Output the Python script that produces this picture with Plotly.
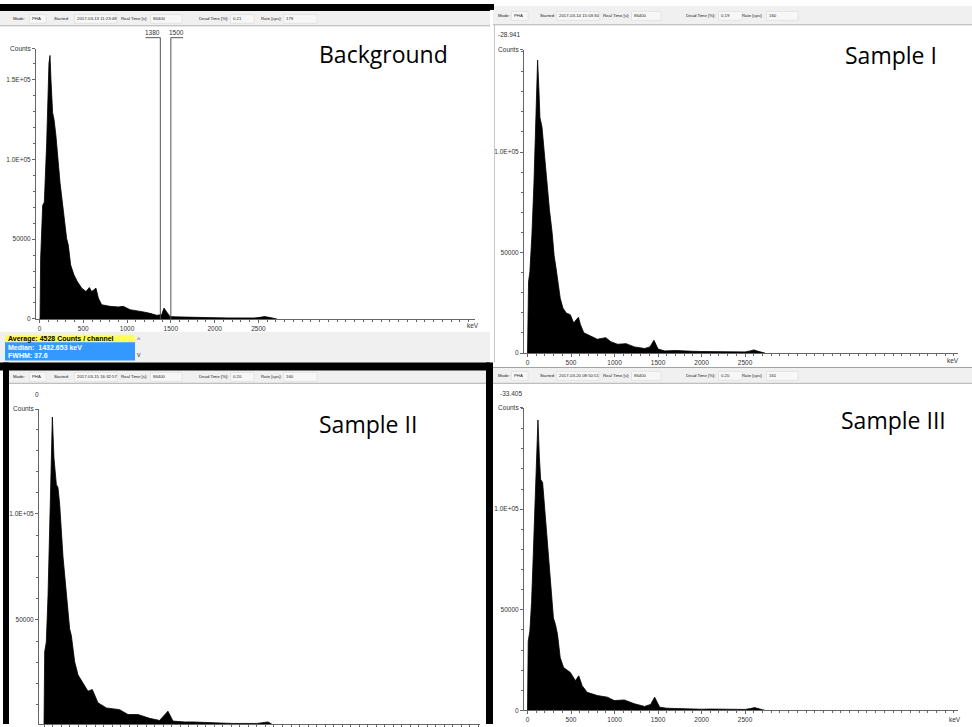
import plotly.graph_objects as go

W, H = 972, 727

# ---------------- data ----------------
bg_energy = [0, 6, 13, 36, 55, 82, 108, 120, 131, 150, 166, 188, 234, 272, 310, 329, 356, 394, 432, 482,
             531, 569, 596, 645, 672, 710, 805, 900, 957, 1034, 1110, 1186, 1262, 1338, 1395, 1422, 1452, 1490,
             1550, 1650, 1750, 1850, 1950, 2050, 2150, 2250, 2350, 2450, 2520, 2570, 2620, 2680, 2710]
bg_counts = [0, 0, 38000, 71200, 73200, 110600, 160400, 165200, 150000, 129300, 125100, 114700, 85700, 69100,
             50400, 46300, 33800, 27600, 23400, 19300, 17200, 19700, 17200, 19300, 13100, 8900, 7900, 7500, 7900,
             5800, 5200, 4400, 3500, 2300, 2700, 6800, 4400, 1500, 1300, 1100, 1000, 900, 800, 700, 650, 600, 550,
             600, 1000, 1500, 1000, 500, 0]

s1_energy = [0, 12, 27, 50, 74, 97, 116, 132, 143, 167, 190, 221, 252, 283, 306, 329, 353, 376, 407, 446,
             492, 531, 562, 585, 608, 647, 725, 802, 899, 957, 1035, 1132, 1229, 1345, 1407, 1453, 1500, 1578,
             1700, 1800, 1900, 2000, 2100, 2200, 2300, 2400, 2500, 2560, 2600, 2650, 2700, 2730]
s1_counts = [0, 35500, 40400, 58300, 84500, 115500, 145700, 130200, 117200, 112300, 100800, 87700, 71400, 60000,
             48500, 42000, 33800, 27300, 22400, 19900, 19100, 15000, 16700, 17800, 14200, 10100, 8500, 6900, 7700,
             5700, 4400, 4700, 3100, 2300, 3100, 6400, 2000, 1100, 1300, 1000, 900, 800, 800, 700, 600, 500, 600,
             1100, 1600, 900, 400, 0]

s2_energy = [0, 8, 27, 47, 66, 86, 98, 117, 145, 164, 184, 223, 262, 301, 321, 360, 399, 457, 516, 567,
             594, 633, 732, 888, 986, 1103, 1240, 1357, 1455, 1514, 1650, 1750, 2000, 2219, 2500, 2630, 2689, 2720]
s2_counts = [0, 35000, 39600, 61300, 92300, 131000, 145700, 126300, 113900, 112400, 104600, 79900, 61300, 45800,
             42700, 30300, 24100, 20300, 16400, 17200, 14900, 11000, 8500, 7700, 5400, 5400, 3600, 2600, 7000,
             2300, 1900, 1900, 1500, 1200, 1200, 1900, 500, 0]

s3_energy = [0, 8, 27, 47, 66, 85, 105, 120, 136, 151, 174, 198, 221, 260, 298, 322, 345, 376, 415, 492,
             550, 589, 628, 686, 802, 918, 996, 1112, 1229, 1345, 1415, 1461, 1519, 1600, 1700, 1800, 1900, 2000,
             2100, 2200, 2300, 2400, 2500, 2560, 2610, 2660, 2700, 2730]
s3_counts = [0, 34400, 39400, 54100, 77100, 103300, 131200, 144300, 126300, 114800, 113200, 100000, 88600, 67200,
             45900, 42600, 37700, 26200, 21300, 18900, 14800, 17200, 12300, 9000, 7400, 6600, 4900, 5200, 3300,
             2000, 3000, 6600, 1600, 1100, 900, 800, 700, 600, 700, 600, 500, 400, 500, 900, 1400, 800, 300, 0]

x_tick_vals = [0, 500, 1000, 1500, 2000, 2500]
x_tick_text = ["0", "500", "1000", "1500", "2000", "2500"]
y_tick_vals = [0, 50000, 100000, 150000]
y_tick_text = ["0", "50000", "1.0E+05", "1.5E+05"]
roi_markers = [1380, 1500]

header_labels = ["Mode:", "Started:", "Real Time [s]:", "Dead Time [%]:", "Rate [cps]:"]
bg_header = ["PHA", "2017-03-13 11:23:48", "86400", "0.21", "179"]
s1_header = ["PHA", "2017-03-14 15:03:30", "86400", "0.19", "160"]
s2_header = ["PHA", "2017-03-15 16:32:57", "86400", "0.20", "160"]
s3_header = ["PHA", "2017-03-20 08:50:51", "86400", "0.20", "161"]

status_lines = ["Average: 4528 Counts / channel", "Median:  1432.653 keV", "FWHM: 37.6"]

# ---------------- layout helpers ----------------
def PX(p):
    return p / W

def PY(p):
    return 1 - p / H

TICKFONT = dict(family="Liberation Sans Narrow, Liberation Sans, Arial", size=6.5, color="#333")
HFONT = dict(family="Liberation Sans Narrow, Liberation Sans, Arial", size=4.3, color="#222")
BIGFONT = dict(family="Open Sans, Liberation Sans", size=23, color="#000")

panels = [
    dict(name="Background", e=bg_energy, c=bg_counts, xd=(36, 475), x0=39.5, kpp=11.42,
         yd=(318, 45), y0=318, cpp=621.0, top_label=None, keV=(473, 325),
         ylabels=(0, 1, 2, 3), title=(318, 50), xlabels=True),
    dict(name="Sample I", e=s1_energy, c=s1_counts, xd=(524, 958), x0=527.5, kpp=11.49,
         yd=(352.5, 46), y0=352.5, cpp=492.6, top_label=("-28.941", 509, 31), keV=(953, 360),
         ylabels=(0, 1, 2), title=(844, 52), xlabels=True),
    dict(name="Sample II", e=s2_energy, c=s2_counts, xd=(39, 480), x0=44, kpp=11.74,
         yd=(727, 409), y0=729, cpp=467.0, top_label=("0", 37, 394), keV=None,
         ylabels=(1, 2), title=(318, 424), xlabels=False),
    dict(name="Sample III", e=s3_energy, c=s3_counts, xd=(524, 958), x0=527.5, kpp=11.49,
         yd=(713.3, 407.5), y0=713.3, cpp=492.0, top_label=("-33.405", 511, 393), keV=(955, 722),
         ylabels=(0, 1, 2), title=(840, 420), xlabels=True),
]

fig = go.Figure()
annotations = []
shapes = []

def rect(x0, y0, x1, y1, fill, line=None, lw=0):
    shapes.append(dict(type="rect", xref="paper", yref="paper",
                       x0=PX(x0), x1=PX(x1), y0=PY(y1), y1=PY(y0),
                       fillcolor=fill, line=dict(width=lw, color=line or fill), layer="above"))

def hline(x0, x1, y, color, w=1):
    shapes.append(dict(type="line", xref="paper", yref="paper", x0=PX(x0), x1=PX(x1), y0=PY(y), y1=PY(y),
                       line=dict(color=color, width=w), layer="above"))

def vline(x, y0, y1, color, w=1):
    shapes.append(dict(type="line", xref="paper", yref="paper", x0=PX(x), x1=PX(x), y0=PY(y0), y1=PY(y1),
                       line=dict(color=color, width=w), layer="above"))

def text(x, y, s, font, xanchor="left", color=None, bold=False):
    f = dict(font)
    if color:
        f["color"] = color
    annotations.append(dict(xref="paper", yref="paper", x=PX(x), y=PY(y), text=("<b>%s</b>" % s) if bold else s,
                            showarrow=False, xanchor=xanchor, yanchor="middle", font=f,
                            borderpad=0))

layout_axes = {}
for i, p in enumerate(panels):
    n = "" if i == 0 else str(i + 1)
    xr = [(p["xd"][0] - p["x0"]) * p["kpp"], (p["xd"][1] - p["x0"]) * p["kpp"]]
    yr = [(p["y0"] - p["yd"][0]) * p["cpp"], (p["y0"] - p["yd"][1]) * p["cpp"]]
    fig.add_trace(go.Scatter(x=p["e"], y=p["c"], mode="lines", fill="tozeroy", fillcolor="black",
                             line=dict(color="black", width=0.8), xaxis="x" + n, yaxis="y" + n,
                             showlegend=False, hoverinfo="skip"))
    yt = [y_tick_vals[k] for k in p["ylabels"]] + [yr[1]]
    ytt = [y_tick_text[k] for k in p["ylabels"]] + ["Counts"]
    layout_axes["xaxis" + n] = dict(domain=[PX(p["xd"][0]), PX(p["xd"][1])], range=xr, anchor="y" + n,
                                    showline=True, linecolor="#666", linewidth=1, ticks="outside",
                                    ticklen=3, tickcolor="#666", tickwidth=1, showgrid=False, zeroline=False,
                                    tickmode="array", tickvals=x_tick_vals, ticktext=x_tick_text,
                                    tickfont=TICKFONT, showticklabels=p["xlabels"],
                                    minor=dict(ticks="outside", ticklen=2, tickcolor="#666",
                                               tickmode="linear", tick0=0, dtick=100, showgrid=False),
                                    fixedrange=True)
    layout_axes["yaxis" + n] = dict(domain=[PY(p["yd"][0]), PY(p["yd"][1])], range=yr, anchor="x" + n,
                                    showline=True, linecolor="#666", linewidth=1, ticks="outside",
                                    ticklen=3, tickcolor="#666", tickwidth=1, showgrid=False, zeroline=False,
                                    tickmode="array", tickvals=yt, ticktext=ytt, tickfont=TICKFONT,
                                    minor=dict(ticks="outside", ticklen=2, tickcolor="#666",
                                               tickmode="linear", tick0=0, dtick=10000, showgrid=False),
                                    fixedrange=True)
    if p["keV"]:
        text(p["keV"][0], p["keV"][1], "keV", TICKFONT, xanchor="center")
    if p["top_label"]:
        text(p["top_label"][1], p["top_label"][2], p["top_label"][0], TICKFONT, xanchor="center")
    text(p["title"][0], p["title"][1], p["name"], BIGFONT, xanchor="left")

# ROI markers on the background spectrum
for k, m in enumerate(roi_markers):
    shapes.append(dict(type="line", xref="x", yref="paper", x0=m, x1=m, y0=PY(318), y1=PY(34),
                       line=dict(color="#555", width=1), layer="above"))
    if k == 0:
        shapes.append(dict(type="line", xref="x", yref="paper", x0=m - 170, x1=m, y0=PY(34), y1=PY(34),
                           line=dict(color="#555", width=1), layer="above"))
        annotations.append(dict(xref="x", yref="paper", x=m - 85, y=PY(29), text=str(m), showarrow=False,
                                xanchor="center", yanchor="middle", font=TICKFONT))
    else:
        shapes.append(dict(type="line", xref="x", yref="paper", x0=m, x1=m + 140, y0=PY(34), y1=PY(34),
                           line=dict(color="#555", width=1), layer="above"))
        annotations.append(dict(xref="x", yref="paper", x=m + 70, y=PY(29), text=str(m), showarrow=False,
                                xanchor="center", yanchor="middle", font=TICKFONT))

# ---------------- window chrome ----------------
rect(0, 0, 490, 7, "black")
rect(0, 7, 490, 22, "#f0f0f0")
hline(0, 490, 22, "#b0b0b0")
rect(493, 2, 972, 21, "#f0f0f0")
hline(493, 972, 21, "#b0b0b0")
rect(490, 0, 494, 6, "black")
rect(493, 367, 972, 383, "#f0f0f0")
hline(493, 972, 367, "#a0a0a0")
hline(493, 972, 383, "#b0b0b0")
rect(8, 370, 486, 383, "#f0f0f0")
hline(8, 486, 383, "#b0b0b0")
rect(0, 331, 490, 362, "#f0f0f0")
rect(5, 334, 135, 341.5, "#ffff5a")
rect(5, 341.5, 135, 360, "#3399ff")
rect(0, 362, 490, 370, "black")
rect(3, 362, 9, 727, "black")
rect(486, 362, 493, 727, "black")
vline(494.5, 21, 362, "#c8c8c8")

def header(y, left, lab_x, val_x, val_w, values):
    for lx, lab in zip(lab_x, header_labels):
        text(left + lx, y, lab, HFONT)
    for vx, vw, val in zip(val_x, val_w, values):
        rect(left + vx - 1.5, y - 4.5, left + vx + vw, y + 4.5, "#f7f7f7", line="#d4d4d4", lw=0.5)
        text(left + vx, y, val, HFONT)

left_lab = [12, 53, 120, 198, 260]
left_val = [31, 76, 152, 232, 285]
left_w = [15, 41, 30, 22, 32]
right_lab = [7, 49, 112, 195, 251]
right_val = [23, 68, 143, 230, 278]
right_w = [15, 41, 28, 22, 30]

header(15, 0, left_lab, left_val, left_w, bg_header)
header(12, 490, right_lab, right_val, right_w, s1_header)
header(376.5, 0, left_lab, left_val, left_w, s2_header)
header(375.5, 490, right_lab, right_val, right_w, s3_header)

SFONT = dict(family="Liberation Sans Narrow, Liberation Sans, Arial", size=7, color="#000")
text(7, 338, status_lines[0], SFONT, bold=True)
text(7, 346.5, status_lines[1], SFONT, color="white", bold=True)
text(7, 355, status_lines[2], SFONT, color="white", bold=True)
text(139, 339, "^", SFONT, xanchor="center", color="#444")
text(139, 354, "v", SFONT, xanchor="center", color="#444")

fig.update_layout(width=W, height=H, margin=dict(l=0, r=0, t=0, b=0),
                  paper_bgcolor="white", plot_bgcolor="white",
                  annotations=annotations, shapes=shapes, **layout_axes)

fig.write_html("out.html", config={"displayModeBar": False},
               post_script="document.body.style.margin='0';document.body.style.padding='0';"
                           "document.body.style.overflow='hidden';")
